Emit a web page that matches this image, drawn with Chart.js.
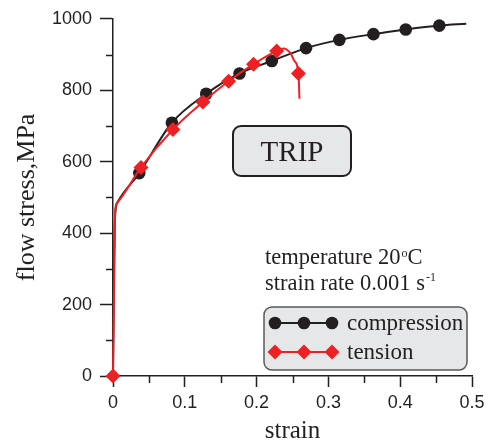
<!DOCTYPE html>
<html>
<head>
<meta charset="utf-8">
<script src="https://cdn.jsdelivr.net/npm/chart.js@4/dist/chart.umd.min.js"></script>
<style>
html, body { margin: 0; padding: 0; background: #fff; }
#wrap { width: 495px; height: 443px; }
</style>
</head>
<body>
<div id="wrap"><canvas id="chartCanvas" width="495" height="443"></canvas></div>
<script>
// compression curve (line) and its markers
const compStrain = [0, 0.0015, 0.003, 0.0065, 0.0366, 0.082, 0.1298, 0.1762, 0.2212, 0.2689, 0.3153, 0.3627, 0.4077, 0.4545, 0.492];
const compStress = [0, 300, 450, 487, 568, 709, 790, 847, 882, 918, 941, 957, 970, 981, 986];
const compMarkStrain = [0.0366, 0.082, 0.1298, 0.1762, 0.2212, 0.2689, 0.3153, 0.3627, 0.4077, 0.4545];
const compMarkStress = [568, 709, 790, 847, 882, 918, 941, 957, 970, 981];

// tension curve (line) and its markers
const tensStrain = [0, 0.0018, 0.003, 0.0055, 0.039, 0.0835, 0.1253, 0.161, 0.1958, 0.228, 0.2374, 0.2467, 0.2527, 0.2583, 0.2597];
const tensStress = [0, 300, 462, 484, 584, 690, 767, 825, 873, 910, 917, 905, 882, 847, 776];
const tensMarkStrain = [0, 0.039, 0.0835, 0.1253, 0.161, 0.1958, 0.228, 0.2583];
const tensMarkStress = [0, 584, 690, 767, 825, 873, 910, 847];

const seriesNames = ["compression", "tension"];
const xMinorTicks = [0.05, 0.15, 0.25, 0.35, 0.45];
const yMinorTicks = [100, 300, 500, 700, 900];

const ink = "#231f20";
const red = "#ed2024";
const serif = "'Liberation Serif', 'Times New Roman', serif";
const sans = "'Liberation Sans', Arial, sans-serif";

function toPoints(xs, ys) {
    return xs.map((v, i) => ({ x: v, y: ys[i] }));
}

function circle(ctx, x, y, r, color) {
    ctx.fillStyle = color;
    ctx.beginPath();
    ctx.arc(x, y, r, 0, Math.PI * 2);
    ctx.fill();
}

function diamond(ctx, x, y, r, color) {
    ctx.fillStyle = color;
    ctx.beginPath();
    ctx.moveTo(x - r, y);
    ctx.lineTo(x, y - r);
    ctx.lineTo(x + r, y);
    ctx.lineTo(x, y + r);
    ctx.closePath();
    ctx.fill();
}

const extras = {
    id: "extras",
    afterDraw(chart) {
        const ctx = chart.ctx;
        const xs = chart.scales.x;
        const ys = chart.scales.y;
        const area = chart.chartArea;
        ctx.save();

        // minor ticks
        ctx.strokeStyle = ink;
        ctx.lineWidth = 1.5;
        yMinorTicks.forEach(v => {
            const py = Math.round(ys.getPixelForValue(v)) + 0.5;
            ctx.beginPath();
            ctx.moveTo(area.left - 7, py);
            ctx.lineTo(area.left, py);
            ctx.stroke();
        });
        xMinorTicks.forEach(v => {
            const px = Math.round(xs.getPixelForValue(v)) + 0.5;
            ctx.beginPath();
            ctx.moveTo(px, area.bottom);
            ctx.lineTo(px, area.bottom + 7);
            ctx.stroke();
        });

        // axis titles
        ctx.fillStyle = ink;
        ctx.textAlign = "center";
        ctx.textBaseline = "middle";
        ctx.font = "25px " + serif;
        ctx.fillText("strain", (area.left + area.right) / 2, 431);
        ctx.save();
        ctx.translate(27, (area.top + area.bottom) / 2);
        ctx.rotate(-Math.PI / 2);
        ctx.font = "26px " + serif;
        ctx.fillText("flow stress,MPa", 0, 0);
        ctx.restore();

        // TRIP box
        ctx.fillStyle = "#e6e7e8";
        ctx.strokeStyle = ink;
        ctx.lineWidth = 2;
        ctx.beginPath();
        ctx.roundRect(233, 126, 118, 50, 8);
        ctx.fill();
        ctx.stroke();
        ctx.fillStyle = ink;
        ctx.textBaseline = "alphabetic";
        ctx.font = "29px " + serif;
        ctx.fillText("TRIP", 292, 161);

        // conditions text
        ctx.textAlign = "left";
        ctx.font = "22.5px " + serif;
        let tx = 265;
        ctx.fillText("temperature 20", tx, 264);
        tx += ctx.measureText("temperature 20").width;
        ctx.font = "12px " + serif;
        ctx.fillText("o", tx + 1, 257);
        tx += ctx.measureText("o").width + 1;
        ctx.font = "22.5px " + serif;
        ctx.fillText("C", tx, 264);
        tx = 265;
        ctx.fillText("strain rate 0.001 s", tx, 290);
        tx += ctx.measureText("strain rate 0.001 s").width;
        ctx.font = "12px " + serif;
        ctx.fillText("-1", tx + 1, 281);

        // legend
        ctx.fillStyle = "#e6e7e8";
        ctx.strokeStyle = "#58595b";
        ctx.lineWidth = 1.5;
        ctx.beginPath();
        ctx.roundRect(264, 307, 203, 63, 8);
        ctx.fill();
        ctx.stroke();
        const rows = [323, 352];
        const mx = [275, 304, 332];
        ctx.lineWidth = 2;
        ctx.strokeStyle = ink;
        ctx.beginPath();
        ctx.moveTo(mx[0], rows[0]);
        ctx.lineTo(mx[2], rows[0]);
        ctx.stroke();
        mx.forEach(x => circle(ctx, x, rows[0], 6.3, ink));
        ctx.strokeStyle = red;
        ctx.beginPath();
        ctx.moveTo(mx[0], rows[1]);
        ctx.lineTo(mx[2], rows[1]);
        ctx.stroke();
        mx.forEach(x => diamond(ctx, x, rows[1], 7.5, red));
        ctx.fillStyle = ink;
        ctx.font = "23px " + serif;
        ctx.fillText(seriesNames[0], 347, rows[0] + 7);
        ctx.fillText(seriesNames[1], 347, rows[1] + 7);

        ctx.restore();
    }
};

const ctx = document.getElementById("chartCanvas").getContext("2d");
const chart = new Chart(ctx, {
    type: "scatter",
    data: {
        datasets: [
            {
                label: seriesNames[0],
                data: toPoints(compStrain, compStress),
                showLine: true,
                borderColor: ink,
                borderWidth: 2,
                pointRadius: 0,
                cubicInterpolationMode: "monotone",
                clip: false,
                order: 4
            },
            {
                label: seriesNames[0] + " markers",
                data: toPoints(compMarkStrain, compMarkStress),
                showLine: false,
                pointStyle: "circle",
                pointRadius: 6.3,
                pointBackgroundColor: ink,
                pointBorderWidth: 0,
                clip: false,
                order: 3
            },
            {
                label: seriesNames[1],
                data: toPoints(tensStrain, tensStress),
                showLine: true,
                borderColor: red,
                borderWidth: 2,
                pointRadius: 0,
                cubicInterpolationMode: "monotone",
                clip: false,
                order: 2
            },
            {
                label: seriesNames[1] + " markers",
                data: toPoints(tensMarkStrain, tensMarkStress),
                showLine: false,
                pointStyle: "rectRot",
                pointRadius: 7.5,
                pointBackgroundColor: red,
                pointBorderWidth: 0,
                clip: false,
                order: 1
            }
        ]
    },
    options: {
        responsive: false,
        animation: false,
        devicePixelRatio: 1,
        layout: { padding: { left: 0, top: 16, right: 23, bottom: 0 } },
        plugins: {
            legend: { display: false },
            tooltip: { enabled: false }
        },
        scales: {
            x: {
                type: "linear",
                min: 0,
                max: 0.5,
                afterFit: s => { s.height = 67; },
                ticks: {
                    stepSize: 0.1,
                    padding: 5,
                    color: ink,
                    font: { family: sans, size: 18 },
                    callback: v => Number(v.toFixed(2)).toString()
                },
                grid: { drawOnChartArea: false, drawTicks: true, tickLength: 11, tickWidth: 1.5, tickColor: ink },
                border: { color: ink, width: 1.5 }
            },
            y: {
                min: 0,
                max: 1000,
                afterFit: s => { s.width = 113; },
                ticks: {
                    stepSize: 200,
                    padding: 8,
                    color: ink,
                    font: { family: sans, size: 18 },
                    callback: v => String(Math.round(v))
                },
                grid: { drawOnChartArea: false, drawTicks: true, tickLength: 13, tickWidth: 1.5, tickColor: ink },
                border: { color: ink, width: 1.5 }
            }
        }
    },
    plugins: [extras]
});
</script>
</body>
</html>
